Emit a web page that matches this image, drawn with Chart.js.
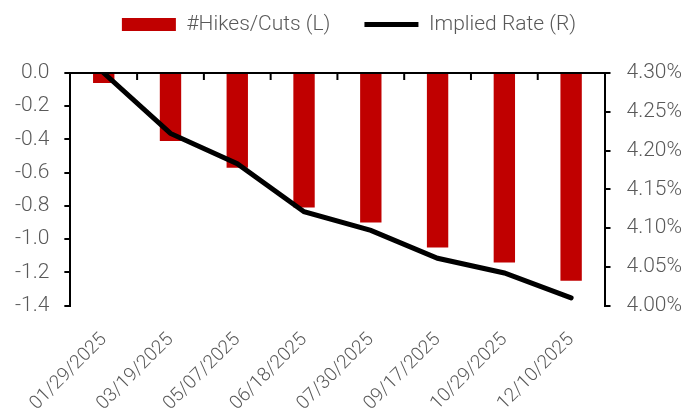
<!DOCTYPE html>
<html>
<head>
<meta charset="utf-8">
<script src="https://cdn.jsdelivr.net/npm/chart.js@4.4.1/dist/chart.umd.min.js"></script>
<style>
    html, body { margin: 0; padding: 0; background: #fff; }
</style>
</head>
<body>
<canvas id="grafico" width="690" height="412"></canvas>
<script>
/* DADOS */

const datas = ['01/29/2025', '03/19/2025', '05/07/2025', '06/18/2025', '07/30/2025', '09/17/2025', '10/29/2025', '12/10/2025'];
const cortes = [-0.06, -0.41, -0.57, -0.81, -0.90, -1.05, -1.14, -1.25];
const taxa = [4.30, 4.222, 4.183, 4.121, 4.097, 4.061, 4.042, 4.010];

const cinza = '#595959';
const fonte = { family: 'Roboto', size: 21, weight: '300' };

/* marcas de divisao no eixo de cima, apontando pra baixo */
const marcasTopo = {
    id: 'marcasTopo',
    afterDatasetsDraw(chart) {
        const { ctx, chartArea, scales } = chart;
        const x = scales.x;
        ctx.save();
        ctx.strokeStyle = '#000';
        ctx.lineWidth = 2;
        for (let i = 1; i < datas.length; i++) {
            let px = (x.getPixelForValue(i - 1) + x.getPixelForValue(i)) / 2;
            ctx.beginPath();
            ctx.moveTo(px, chartArea.top);
            ctx.lineTo(px, chartArea.top + 7);
            ctx.stroke();
        }
        ctx.restore();
    }
};

const grafico = new Chart(document.querySelector('#grafico'), {
    data: {
        labels: datas,
        datasets: [{
            type: 'bar',
            label: '#Hikes/Cuts (L)',
            data: cortes,
            backgroundColor: '#C00000',
            borderWidth: 0,
            pointStyle: 'rect',
            barPercentage: 0.32,
            categoryPercentage: 1,
            yAxisID: 'y',
            order: 2
        }, {
            type: 'line',
            label: 'Implied Rate (R)',
            data: taxa,
            borderColor: '#000',
            backgroundColor: '#000',
            borderWidth: 5,
            borderCapStyle: 'round',
            pointRadius: 0,
            pointStyle: 'line',
            tension: 0,
            yAxisID: 'y1',
            order: 1
        }]
    },
    options: {
        responsive: false,
        animation: false,
        devicePixelRatio: 1,
        layout: { padding: { top: -20, left: 0, right: -8, bottom: -18 } },
        plugins: {
            tooltip: { enabled: false },
            legend: {
                labels: {
                    usePointStyle: true,
                    pointStyleWidth: 54,
                    boxHeight: 13,
                    padding: 34,
                    color: cinza,
                    font: fonte,
                    sort: (a, b) => a.datasetIndex - b.datasetIndex
                }
            }
        },
        scales: {
            x: {
                position: 'bottom',
                offset: true,
                grid: { display: false },
                border: { display: false },
                ticks: {
                    color: cinza,
                    font: { family: 'Roboto', size: 19, weight: '300' },
                    minRotation: 45,
                    maxRotation: 45,
                    autoSkip: false,
                    padding: 15
                }
            },
            espaco: {
                type: 'category',
                position: 'top',
                grid: { display: false },
                border: { display: false },
                ticks: { display: false },
                afterFit(escala) { escala.height = 28; }
            },
            y: {
                position: 'left',
                min: -1.4,
                max: 0,
                ticks: {
                    stepSize: 0.2,
                    autoSkip: false,
                    color: cinza,
                    font: fonte,
                    padding: 15,
                    callback: v => v.toFixed(1)
                },
                grid: {
                    color: c => (c.tick && Math.abs(c.tick.value) < 1e-9) ? '#000' : 'rgba(0,0,0,0)',
                    tickColor: '#000',
                    tickLength: 6,
                    lineWidth: 2
                },
                border: { color: '#000', width: 2 }
            },
            y1: {
                position: 'right',
                min: 4.0,
                max: 4.3,
                ticks: {
                    stepSize: 0.05,
                    autoSkip: false,
                    color: cinza,
                    font: fonte,
                    padding: 16,
                    callback: v => v.toFixed(2) + '%'
                },
                grid: {
                    drawOnChartArea: false,
                    tickColor: '#000',
                    tickLength: 6,
                    lineWidth: 2
                },
                border: { color: '#000', width: 2 }
            }
        }
    },
    plugins: [marcasTopo]
});
</script>
</body>
</html>
